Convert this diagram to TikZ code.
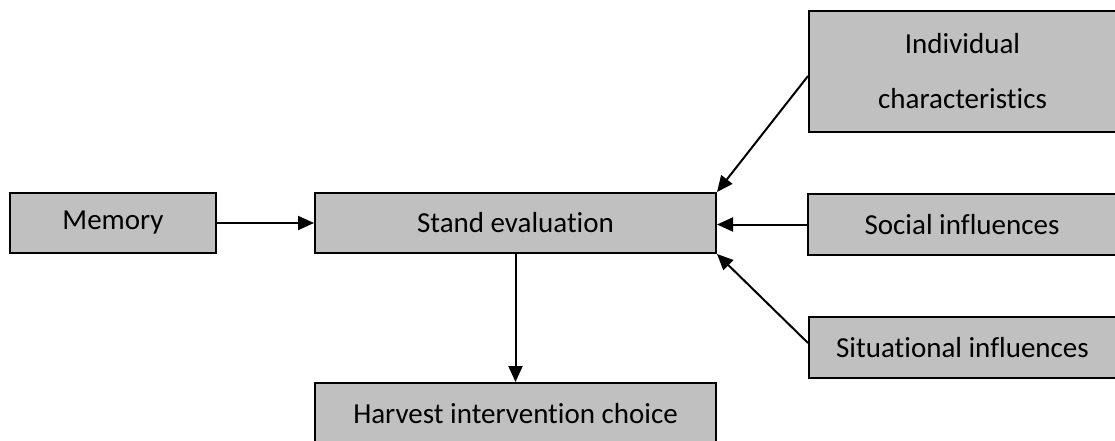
\documentclass[tikz,border=0pt]{standalone}
\usepackage{fontspec}
\setmainfont[Ligatures=NoCommon]{Carlito}
\usetikzlibrary{arrows.meta}
\definecolor{boxgray}{RGB}{192,192,192}
\tikzset{
  box/.style={draw=black, fill=boxgray, line width=2pt, rectangle, inner sep=0pt,
    font=\fontsize{29}{55}\selectfont, align=center},
  link/.style={line width=2pt, -{Triangle[length=16pt, width=14pt]}}
}
\begin{document}
\begin{tikzpicture}[x=1pt, y=-1pt]
  \path[use as bounding box] (0,0) rectangle (1115,441);
  \begin{scope}
    \clip (0,0) rectangle (1115,441);
    % boxes
    \node[box, minimum width=206pt, minimum height=60pt] (memory) at (113,223) {Memory};
    \node[box, minimum width=401pt, minimum height=60pt] (stand) at (515.5,223) {Stand evaluation};
    \node[box, minimum width=307pt, minimum height=121pt] (indiv) at (962.5,71.5) {Individual\\characteristics};
    \node[box, minimum width=308pt, minimum height=61pt] (social) at (962,224.5) {Social influences};
    \node[box, minimum width=307pt, minimum height=61pt] (situ) at (962.5,347.5) {Situational influences};
    \node[box, minimum width=401pt, minimum height=61pt] (harvest) at (515.5,413.5) {Harvest intervention choice};
    % connectors
    \draw[link] (memory.east) -- (stand.west);
    \draw[link] (social.west) -- (stand.east |- social.west);
    \draw[link] ([yshift=-4.5pt]indiv.west) -- (stand.north east);
    \draw[link] ([yshift=4.5pt]situ.west) -- (stand.south east);
    \draw[link] (stand.south) -- (harvest.north);
  \end{scope}
\end{tikzpicture}
\end{document}
